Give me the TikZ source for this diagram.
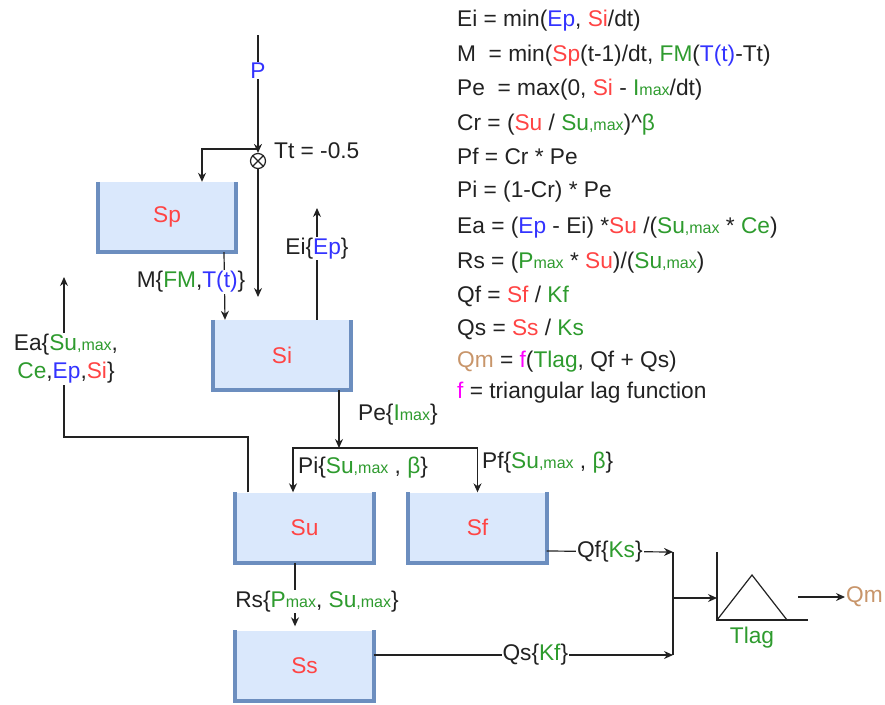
\documentclass[tikz,border=0pt]{standalone}
\usepackage{fontspec}
\setmainfont{Liberation Sans}
\usetikzlibrary{arrows.meta,positioning,calc}

\definecolor{tankfill}{HTML}{DAE8FC}
\definecolor{tankwall}{HTML}{6C8EBF}
\definecolor{txtred}{HTML}{FF4444}
\definecolor{txtgreen}{RGB}{46,155,46}
\definecolor{txtblue}{HTML}{3333FF}
\definecolor{txtbrown}{HTML}{C8956A}
\definecolor{txtpink}{HTML}{FF00FF}
\definecolor{ink}{HTML}{222222}

\newcommand{\colR}[1]{\textcolor{txtred}{#1}}
\newcommand{\colG}[1]{\textcolor{txtgreen}{#1}}
\newcommand{\colB}[1]{\textcolor{txtblue}{#1}}
\newcommand{\colBr}[1]{\textcolor{txtbrown}{#1}}
\newcommand{\colM}[1]{\textcolor{txtpink}{#1}}
\newcommand{\subtxt}[1]{{\fontsize{16}{16}\selectfont #1}}

\begin{document}
\begin{tikzpicture}[x=1pt,y=-1pt,font=\fontsize{22.7}{28}\selectfont,ink,
  tank/.style={fill=tankfill,minimum width=138,minimum height=70,inner sep=0,text=txtred},
  wall/.style={draw=tankwall,line width=4pt},
  pipe/.style={draw=ink,line width=1.2pt},
  flowarr/.style={pipe,-{Stealth[length=9pt,width=8pt]}},
  lbl/.style={fill=white,inner sep=1pt},
  eq/.style={anchor=base west,inner sep=0}]
  \useasboundingbox (0,0) rectangle (885,704);

  % Stores
  \node[tank] (Sp) at (167,217) {Sp};
  \node[tank] (Si) at (282,355) {Si};
  \node[tank] (Su) at (304.5,527.5) {Su};
  \node[tank] (Sf) at (477.5,527.5) {Sf};
  \node[tank] (Ss) at (304.5,665.5) {Ss};
  \foreach \s in {Sp,Si,Su,Sf,Ss}
    \draw[wall] (\s.north west) -- (\s.south west) -- (\s.south east) -- (\s.north east);

  % Precipitation and threshold temperature
  \coordinate (P) at (258,35);
  \coordinate (split) at (258,149);
  \coordinate (siin) at (258,297);
  \node[circle,draw=ink,line width=1.2pt,minimum size=15,inner sep=0,fill=white] (mix) at (258,161) {};
  \draw[pipe] (mix.45) -- (mix.225) (mix.135) -- (mix.315);
  \draw[flowarr] (P) -- node[lbl,pos=0.3] {\colB{P}} (mix.north);
  \node[lbl,anchor=west] (Tt) at (273,151) {Tt = -0.5};
  \draw[flowarr] (split) -| ([xshift=35]Sp.north);
  \draw[flowarr] (mix.south) -- (siin);

  % Melt
  \draw[flowarr] ([xshift=57]Sp.south) -- ([xshift=-57]Si.north);
  \node[lbl] (Mlbl) at (191,282) {M\{\colG{FM},\colB{T(t)}\}};

  % Interception evaporation
  \coordinate (eiout) at (317,208);
  \draw[flowarr] ([xshift=35]Si.north) -- node[lbl,pos=0.64] {Ei\{\colB{Ep}\}} (eiout);

  % Actual evaporation
  \coordinate (eaout) at (64,277);
  \draw[flowarr] ([xshift=-56.5]Su.north) |- ($(eaout)+(0,160)$) -- (eaout);
  \node[lbl,align=center] (Ealbl) at (66,359)
    {Ea\{\colG{Su\subtxt{,max}},\\\colG{Ce},\colB{Ep},\colR{Si}\}};

  % Effective precipitation
  \coordinate (split2) at (339,448);
  \draw[flowarr] ([xshift=57]Si.south) -- (split2);
  \node[lbl,anchor=west] (Pelbl) at (357,415) {Pe\{\colG{I\subtxt{max}}\}};
  \draw[flowarr] (split2) -| ([xshift=-11.5]Su.north);
  \draw[flowarr] (split2) -| (Sf.north);
  \node[lbl,anchor=west] (Pilbl) at (297,468) {Pi\{\colG{Su\subtxt{,max}} , \colG{β}\}};
  \node[lbl,anchor=west] (Pflbl) at (481,463) {Pf\{\colG{Su\subtxt{,max}} , \colG{β}\}};

  % Percolation
  \draw[flowarr,shorten >=4pt] ([xshift=-9.5]Su.south) --
    node[lbl,pos=0.58,xshift=22] {Rs\{\colG{P\subtxt{max}}, \colG{Su\subtxt{,max}}\}} ([xshift=-9.5]Ss.north);

  % Fast and slow flow
  \coordinate (qfin) at (673,552);
  \coordinate (qsin) at (673,655);
  \draw[flowarr] ([yshift=-23.5]Sf.east) -- node[lbl,pos=0.5] {Qf\{\colG{Ks}\}} (qfin);
  \draw[flowarr] ([yshift=10.5]Ss.east) -- node[lbl,pos=0.54] {Qs\{\colG{Kf}\}} (qsin);

  % Lag routing
  \coordinate (lag) at (717,620);
  \coordinate (lagin) at (717,598);
  \coordinate (lagout) at (798,597);
  \coordinate (qmout) at (845,597);
  \draw[pipe] (qfin) -- (qsin);
  \draw[flowarr] (qfin |- lagin) -- (lagin);
  \draw[pipe] (lag) ++(0,-68) -- (lag) -- ++(91,0);
  \draw[pipe] (lag) -- ++(35,-45) -- ++(35,45);
  \node[lbl,text=txtgreen] (Tlag) at (752,638) {Tlag};
  \draw[flowarr] (lagout) -- (qmout);
  \node[lbl,anchor=west] (Qm) at (qmout) {\colBr{Qm}};

  % Equations
  \node[eq] (eq1) at (457,27) {Ei = min(\colB{Ep}, \colR{Si}/dt)};
  \node[eq] (eq2) at (457,61) {M\ \ = min(\colR{Sp}(t-1)/dt, \colG{FM}(\colB{T(t)}-Tt)};
  \node[eq] (eq3) at (457,95) {Pe\ \ = max(0, \colR{Si} - \colG{I\subtxt{max}}/dt)};
  \node[eq] (eq4) at (457,130) {Cr = (\colR{Su} / \colG{Su\subtxt{,max}})\^{}\colG{β}};
  \node[eq] (eq5) at (457,164) {Pf = Cr * Pe};
  \node[eq] (eq6) at (457,197) {Pi = (1-Cr) * Pe};
  \node[eq] (eq7) at (457,233) {Ea = (\colB{Ep} - Ei) *\colR{Su} /(\colG{Su\subtxt{,max}} * \colG{Ce})};
  \node[eq] (eq8) at (457,268) {Rs = (\colG{P\subtxt{max}} * \colR{Su})/(\colG{Su\subtxt{,max}})};
  \node[eq] (eq9) at (457,302) {Qf = \colR{Sf} / \colG{Kf}};
  \node[eq] (eq10) at (457,335) {Qs = \colR{Ss} / \colG{Ks}};
  \node[eq] (eq11) at (457,367) {\colBr{Qm} = \colM{f}(\colG{Tlag}, Qf + Qs)};
  \node[eq] (eq12) at (457,398) {\colM{f} = triangular lag function};
\end{tikzpicture}
\end{document}
